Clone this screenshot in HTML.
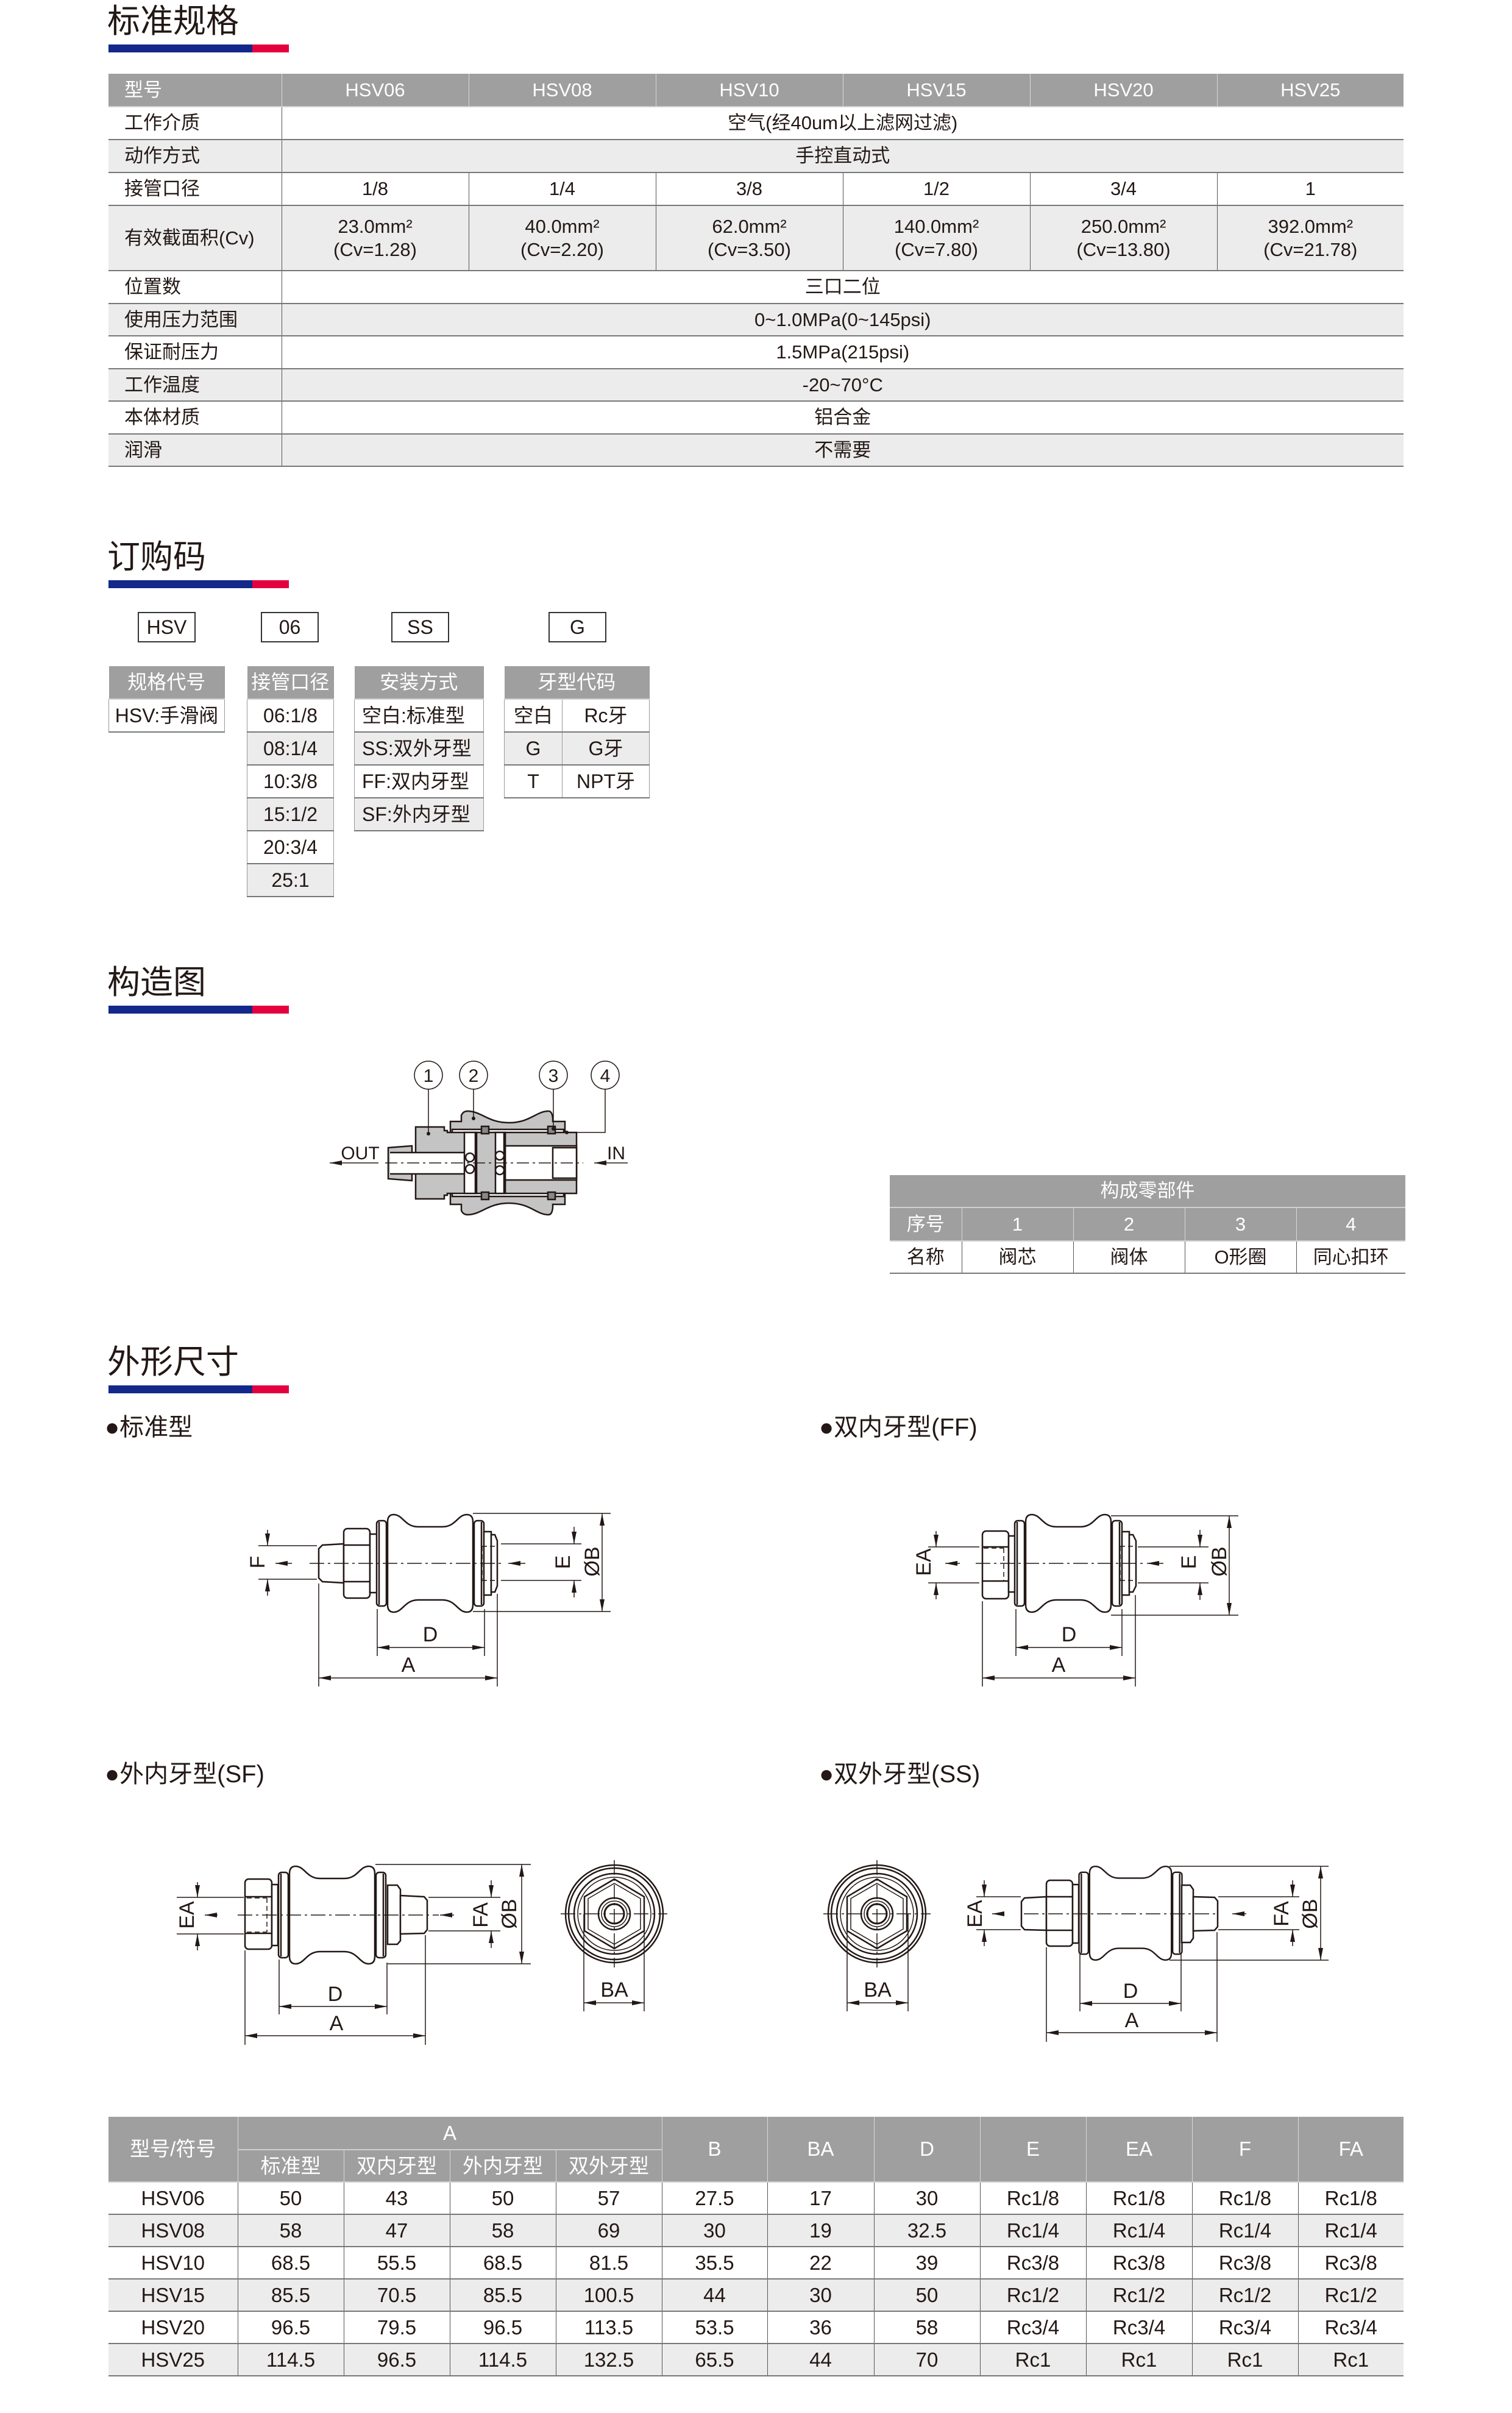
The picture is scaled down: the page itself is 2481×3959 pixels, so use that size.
<!DOCTYPE html>
<html><head><meta charset="utf-8">
<style>
*{margin:0;padding:0;box-sizing:border-box}
body{width:2481px;height:3959px;background:#fff;position:relative;overflow:hidden;font-family:"Liberation Sans","Noto Sans CJK SC",sans-serif;color:#231815}
.t{position:absolute;left:176px;font-size:54px;line-height:54px;font-family:"Liberation Sans","Noto Sans CJK SC",sans-serif;color:#231815}
.bar{position:absolute;left:178px;width:296px;height:13px;background:linear-gradient(90deg,#13288a 0,#13288a 236px,#e4003e 236px)}
table{position:absolute;border-collapse:collapse;table-layout:fixed;font-size:31px}
td{text-align:center;vertical-align:middle;border-bottom:2px solid #777;border-left:1.5px solid #555;padding:0;line-height:1.2}
td:first-child{border-left:none}
tr.h td{background:#9f9f9f;color:#fff;border-left:1.5px solid #d8d8d8;border-bottom:2px solid #d0d0d0}
tr.h td:first-child{border-left:none}
tr.g td{background:#ececec}
.L{text-align:left;padding-left:26px}
.box{position:absolute;top:1004px;width:95px;height:50px;border:2px solid #333;font-size:32px;text-align:center;line-height:46px}
.sub{position:absolute;font-size:40px;line-height:44px}
.oc td{border-left:1.5px solid #999;border-right:1.5px solid #999}
</style></head><body>

<div class="t" style="top:8px">标准规格</div><div class="bar" style="top:73px"></div>
<div class="t" style="top:887px">订购码</div><div class="bar" style="top:952px"></div>
<div class="t" style="top:1585px">构造图</div><div class="bar" style="top:1650px"></div>
<div class="t" style="top:2208px">外形尺寸</div><div class="bar" style="top:2273px"></div>

<table style="left:178px;top:121px;width:2125px">
<colgroup><col style="width:284px"><col style="width:307px"><col style="width:307px"><col style="width:307px"><col style="width:307px"><col style="width:307px"><col style="width:306px"></colgroup>
<tr class="h" style="height:54px"><td class="L">型号</td><td>HSV06</td><td>HSV08</td><td>HSV10</td><td>HSV15</td><td>HSV20</td><td>HSV25</td></tr>
<tr style="height:54px"><td class="L">工作介质</td><td colspan="6">空气(经40um以上滤网过滤)</td></tr>
<tr class="g" style="height:54px"><td class="L">动作方式</td><td colspan="6">手控直动式</td></tr>
<tr style="height:54px"><td class="L">接管口径</td><td>1/8</td><td>1/4</td><td>3/8</td><td>1/2</td><td>3/4</td><td>1</td></tr>
<tr class="g" style="height:107px"><td class="L">有效截面积(Cv)</td><td>23.0mm²<br>(Cv=1.28)</td><td>40.0mm²<br>(Cv=2.20)</td><td>62.0mm²<br>(Cv=3.50)</td><td>140.0mm²<br>(Cv=7.80)</td><td>250.0mm²<br>(Cv=13.80)</td><td>392.0mm²<br>(Cv=21.78)</td></tr>
<tr style="height:54px"><td class="L">位置数</td><td colspan="6">三口二位</td></tr>
<tr class="g" style="height:53px"><td class="L">使用压力范围</td><td colspan="6">0~1.0MPa(0~145psi)</td></tr>
<tr style="height:54px"><td class="L">保证耐压力</td><td colspan="6">1.5MPa(215psi)</td></tr>
<tr class="g" style="height:53px"><td class="L">工作温度</td><td colspan="6">-20~70°C</td></tr>
<tr style="height:54px"><td class="L">本体材质</td><td colspan="6">铝合金</td></tr>
<tr class="g" style="height:53px"><td class="L">润滑</td><td colspan="6">不需要</td></tr>
</table>

<div class="box" style="left:226px">HSV</div>
<div class="box" style="left:428px">06</div>
<div class="box" style="left:642px">SS</div>
<div class="box" style="left:900px">G</div>

<table class="oc" style="left:178px;top:1093px;width:191px;font-size:32px">
<tr class="h" style="height:54px"><td>规格代号</td></tr>
<tr style="height:54px"><td>HSV:手滑阀</td></tr>
</table>
<table class="oc" style="left:405px;top:1093px;width:143px;font-size:32px">
<tr class="h" style="height:54px"><td>接管口径</td></tr>
<tr style="height:54px"><td>06:1/8</td></tr>
<tr class="g" style="height:54px"><td>08:1/4</td></tr>
<tr style="height:54px"><td>10:3/8</td></tr>
<tr class="g" style="height:54px"><td>15:1/2</td></tr>
<tr style="height:54px"><td>20:3/4</td></tr>
<tr class="g" style="height:54px"><td>25:1</td></tr>
</table>
<table class="oc" style="left:581px;top:1093px;width:213px;font-size:32px">
<tr class="h" style="height:54px"><td>安装方式</td></tr>
<tr style="height:54px"><td class="L" style="padding-left:12px">空白:标准型</td></tr>
<tr class="g" style="height:54px"><td class="L" style="padding-left:12px">SS:双外牙型</td></tr>
<tr style="height:54px"><td class="L" style="padding-left:12px">FF:双内牙型</td></tr>
<tr class="g" style="height:54px"><td class="L" style="padding-left:12px">SF:外内牙型</td></tr>
</table>
<table class="oc" style="left:827px;top:1093px;width:238px;font-size:32px">
<colgroup><col style="width:95px"><col style="width:143px"></colgroup>
<tr class="h" style="height:54px"><td colspan="2">牙型代码</td></tr>
<tr style="height:54px"><td>空白</td><td>Rc牙</td></tr>
<tr class="g" style="height:54px"><td>G</td><td>G牙</td></tr>
<tr style="height:54px"><td>T</td><td>NPT牙</td></tr>
</table>

<table style="left:1460px;top:1928px;width:846px;font-size:31px">
<colgroup><col style="width:118px"><col style="width:183px"><col style="width:183px"><col style="width:183px"><col style="width:179px"></colgroup>
<tr class="h" style="height:53px"><td colspan="5">构成零部件</td></tr>
<tr class="h" style="height:55px"><td>序号</td><td>1</td><td>2</td><td>3</td><td>4</td></tr>
<tr style="height:53px"><td>名称</td><td>阀芯</td><td>阀体</td><td>O形圈</td><td>同心扣环</td></tr>
</table>

<div class="sub" style="left:172px;top:2320px">●标准型</div>
<div class="sub" style="left:1344px;top:2320px">●双内牙型(FF)</div>
<div class="sub" style="left:172px;top:2889px">●外内牙型(SF)</div>
<div class="sub" style="left:1344px;top:2889px">●双外牙型(SS)</div>

<table style="left:178px;top:3473px;width:2125px;font-size:33px">
<colgroup><col style="width:212px"><col style="width:174px"><col style="width:174px"><col style="width:174px"><col style="width:174px"><col style="width:173px"><col style="width:175px"><col style="width:174px"><col style="width:174px"><col style="width:174px"><col style="width:174px"><col style="width:173px"></colgroup>
<tr class="h" style="height:54px"><td rowspan="2">型号/符号</td><td colspan="4">A</td><td rowspan="2">B</td><td rowspan="2">BA</td><td rowspan="2">D</td><td rowspan="2">E</td><td rowspan="2">EA</td><td rowspan="2">F</td><td rowspan="2">FA</td></tr>
<tr class="h" style="height:53px"><td style="border-left:1.5px solid #d8d8d8">标准型</td><td>双内牙型</td><td>外内牙型</td><td>双外牙型</td></tr>
<tr style="height:53px"><td>HSV06</td><td>50</td><td>43</td><td>50</td><td>57</td><td>27.5</td><td>17</td><td>30</td><td>Rc1/8</td><td>Rc1/8</td><td>Rc1/8</td><td>Rc1/8</td></tr>
<tr class="g" style="height:53px"><td>HSV08</td><td>58</td><td>47</td><td>58</td><td>69</td><td>30</td><td>19</td><td>32.5</td><td>Rc1/4</td><td>Rc1/4</td><td>Rc1/4</td><td>Rc1/4</td></tr>
<tr style="height:53px"><td>HSV10</td><td>68.5</td><td>55.5</td><td>68.5</td><td>81.5</td><td>35.5</td><td>22</td><td>39</td><td>Rc3/8</td><td>Rc3/8</td><td>Rc3/8</td><td>Rc3/8</td></tr>
<tr class="g" style="height:53px"><td>HSV15</td><td>85.5</td><td>70.5</td><td>85.5</td><td>100.5</td><td>44</td><td>30</td><td>50</td><td>Rc1/2</td><td>Rc1/2</td><td>Rc1/2</td><td>Rc1/2</td></tr>
<tr style="height:53px"><td>HSV20</td><td>96.5</td><td>79.5</td><td>96.5</td><td>113.5</td><td>53.5</td><td>36</td><td>58</td><td>Rc3/4</td><td>Rc3/4</td><td>Rc3/4</td><td>Rc3/4</td></tr>
<tr class="g" style="height:53px"><td>HSV25</td><td>114.5</td><td>96.5</td><td>114.5</td><td>132.5</td><td>65.5</td><td>44</td><td>70</td><td>Rc1</td><td>Rc1</td><td>Rc1</td><td>Rc1</td></tr>
</table>

<svg style="position:absolute;left:0;top:0" width="2481" height="3959" viewBox="0 0 2481 3959" font-family="Liberation Sans, sans-serif">
<defs>
<marker id="ar" viewBox="0 0 20 10" refX="20" refY="5" markerWidth="20" markerHeight="10" markerUnits="userSpaceOnUse" orient="auto-start-reverse"><path d="M0,1 L20,5 L0,9 Z" fill="#231815"/></marker>
<g id="spool" fill="#fff" stroke="#231815" stroke-width="2.5">
<path d="M-70,-68 Q-70,-80 -60,-80 C-45,-80 -42,-60 -20,-60 L20,-60 C42,-60 45,-80 60,-80 Q70,-80 70,-68 L70,68 Q70,80 60,80 C45,80 42,60 20,60 L-20,60 C-42,60 -45,80 -60,80 Q-70,80 -70,68 Z"/>
<rect x="-88" y="-70" width="16" height="140" rx="5"/>
<rect x="72" y="-70" width="16" height="140" rx="5"/>
<line x1="-84" y1="-68" x2="-84" y2="68"/><line x1="84" y1="-68" x2="84" y2="68"/>
</g>
<g id="endv" fill="none" stroke="#231815" stroke-width="2.5">
<circle r="80"/><circle r="75"/><circle r="66"/><circle r="60" stroke-width="1.5"/>
<polygon points="0,-57 49,-28 49,28 0,57 -49,28 -49,-28"/>
<polygon points="0,-50 43,-25 43,25 0,50 -43,25 -43,-25" stroke-width="1.5"/>
<circle r="26"/><circle r="21" stroke-width="1.5"/><circle r="16" stroke-width="3"/>
</g>
</defs>

<g stroke="#231815" stroke-width="2.5">
<path d="M739,1840 L757,1840 L757,1830 Q760,1823 767,1823 C790,1823 800,1842 835,1842 C870,1842 880,1823 900,1823 Q906,1823 907,1835 L907,1840 L927,1840 L927,1976 L907,1976 L907,1981 Q906,1993 900,1993 C880,1993 870,1974 835,1974 C800,1974 790,1993 767,1993 Q760,1993 757,1986 L757,1976 L739,1976 Z" fill="#c4c4c4"/>
<rect x="742" y="1853" width="183" height="110" fill="#fff"/>
<rect x="829" y="1858" width="117" height="100" fill="#c4c4c4"/>
<rect x="829" y="1880" width="117" height="56" fill="#fff"/>
<rect x="907" y="1883" width="39" height="50" fill="#fff"/>
<path d="M682,1849 L729,1849 L729,1855 L734,1855 L734,1858 L782,1858 L782,1958 L734,1958 L734,1961 L729,1961 L729,1967 L682,1967 Z" fill="#c4c4c4"/>
<path d="M637,1883 L676,1880 L676,1937 L637,1934 Z" fill="#c4c4c4"/>
<rect x="640" y="1891" width="142" height="35" fill="#fff" stroke="none"/>
<line x1="640" y1="1891" x2="782" y2="1891"/><line x1="640" y1="1926" x2="782" y2="1926"/>
<rect x="782" y="1858" width="47" height="100" fill="#c4c4c4"/>
<rect x="762" y="1858" width="18" height="100" fill="#fff"/>
<rect x="813" y="1858" width="14" height="100" fill="#fff"/>
<rect x="790" y="1848" width="12" height="12" fill="#888"/><rect x="899" y="1848" width="12" height="12" fill="#888"/>
<rect x="790" y="1956" width="12" height="12" fill="#888"/><rect x="899" y="1956" width="12" height="12" fill="#888"/>
<circle cx="771" cy="1899" r="7" fill="#fff"/><circle cx="771" cy="1918" r="7" fill="#fff"/>
<circle cx="820" cy="1896" r="7" fill="#fff"/><circle cx="820" cy="1920" r="7" fill="#fff"/>
</g>
<g stroke="#231815" stroke-width="1.5" fill="none">
<line x1="632" y1="1908" x2="957" y2="1908" stroke-dasharray="20,6,4,6"/>
<line x1="621" y1="1908" x2="541" y2="1908" marker-end="url(#ar)"/>
<line x1="1030" y1="1908" x2="975" y2="1908" marker-end="url(#ar)"/>
<circle cx="703" cy="1764" r="23"/><circle cx="777" cy="1764" r="23"/><circle cx="908" cy="1764" r="23"/><circle cx="993" cy="1764" r="23"/>
<line x1="703" y1="1787" x2="703" y2="1860"/><line x1="777" y1="1787" x2="777" y2="1835"/>
<line x1="908" y1="1787" x2="908" y2="1852"/><polyline points="993,1787 993,1858 930,1858"/>
</g>
<g fill="#231815"><circle cx="703" cy="1860" r="3"/><circle cx="777" cy="1835" r="3"/><circle cx="908" cy="1852" r="3"/><circle cx="930" cy="1858" r="3"/></g>
<g font-size="30" fill="#231815" text-anchor="middle">
<text x="703" y="1775">1</text><text x="777" y="1775">2</text><text x="908" y="1775">3</text><text x="993" y="1775">4</text>
<text x="591" y="1902">OUT</text><text x="1011" y="1902">IN</text>
</g>

<g fill="#fff" stroke="#231815" stroke-width="2.5">
<path d="M523,2541 L529,2535 L564,2533 L564,2597 L529,2595 L523,2589 Z"/>
<rect x="564" y="2508" width="43" height="114" rx="6"/>
<line x1="564" y1="2535" x2="607" y2="2535"/><line x1="564" y1="2595" x2="607" y2="2595"/>
<rect x="607" y="2517" width="12" height="96"/>
<use href="#spool" x="706" y="2565"/>
<rect x="794" y="2513" width="12" height="104"/>
<path d="M806,2518 L812,2518 L816,2528 L816,2602 L812,2612 L806,2612 Z"/>
<rect x="1612" y="2512" width="43" height="111" rx="6"/>
<line x1="1612" y1="2538" x2="1655" y2="2538"/><line x1="1612" y1="2594" x2="1655" y2="2594"/>
<rect x="1655" y="2520" width="11" height="92"/>
<use href="#spool" x="1753" y="2565"/>
<rect x="1841" y="2513" width="12" height="104"/>
<path d="M1853,2518 L1859,2518 L1864,2528 L1864,2602 L1859,2612 L1853,2612 Z"/>
<rect x="402" y="3083" width="44" height="115" rx="6"/>
<line x1="402" y1="3112" x2="446" y2="3112"/><line x1="402" y1="3172" x2="446" y2="3172"/>
<rect x="446" y="3092" width="10" height="100"/>
<use href="#spool" x="545" y="3142"/>
<path d="M636,3093 L652,3093 L657,3100 L657,3184 L652,3190 L636,3190 Z"/>
<path d="M657,3110 L696,3112 L701,3118 L701,3166 L696,3172 L657,3173 Z"/>
<use href="#endv" x="1008" y="3140"/>
<path d="M1717,3112 L1681,3114 L1676,3120 L1676,3160 L1681,3166 L1717,3167 Z"/>
<rect x="1717" y="3085" width="43" height="108" rx="6"/>
<line x1="1717" y1="3112" x2="1760" y2="3112"/><line x1="1717" y1="3167" x2="1760" y2="3167"/>
<rect x="1760" y="3092" width="10" height="96"/>
<use href="#spool" transform="translate(1855,3139) scale(0.96,0.96)"/>
<path d="M1939,3093 L1953,3093 L1958,3100 L1958,3180 L1953,3187 L1939,3187 Z"/>
<path d="M1958,3112 L1993,3113 L1998,3119 L1998,3161 L1993,3167 L1958,3168 Z"/>
<use href="#endv" x="1439" y="3140"/>
</g>
<g stroke="#231815" stroke-width="1.5" fill="none" stroke-dasharray="8,5">
<line x1="791" y1="2537" x2="814" y2="2537"/><line x1="791" y1="2593" x2="814" y2="2593"/><line x1="791" y1="2537" x2="791" y2="2593"/>
<line x1="1838" y1="2537" x2="1862" y2="2537"/><line x1="1838" y1="2593" x2="1862" y2="2593"/><line x1="1838" y1="2537" x2="1838" y2="2593"/>
<line x1="1614" y1="2540" x2="1647" y2="2540"/><line x1="1614" y1="2594" x2="1647" y2="2594"/><line x1="1647" y1="2540" x2="1647" y2="2594"/>
<line x1="405" y1="3114" x2="438" y2="3114"/><line x1="405" y1="3170" x2="438" y2="3170"/><line x1="438" y1="3114" x2="438" y2="3170"/>
</g>
<g stroke="#231815" stroke-width="1.5" fill="none">
<line x1="508" y1="2565" x2="822" y2="2565" stroke-dasharray="24,6,4,6"/>
<line x1="479" y1="2565" x2="452" y2="2565" marker-end="url(#ar)"/>
<line x1="862" y1="2565" x2="834" y2="2565" marker-end="url(#ar)"/>
<line x1="1601" y1="2565" x2="1880" y2="2565" stroke-dasharray="24,6,4,6"/>
<line x1="1575" y1="2565" x2="1551" y2="2565" marker-end="url(#ar)"/>
<line x1="1909" y1="2565" x2="1882" y2="2565" marker-end="url(#ar)"/>
<line x1="390" y1="3142" x2="720" y2="3142" stroke-dasharray="24,6,4,6"/>
<line x1="357" y1="3142" x2="336" y2="3142" marker-end="url(#ar)"/>
<line x1="745" y1="3142" x2="722" y2="3142" marker-end="url(#ar)"/>
<line x1="1680" y1="3140" x2="2000" y2="3140" stroke-dasharray="24,6,4,6"/>
<line x1="1648" y1="3140" x2="1628" y2="3140" marker-end="url(#ar)"/>
<line x1="2045" y1="3140" x2="2022" y2="3140" marker-end="url(#ar)"/>
<line x1="920" y1="3140" x2="1095" y2="3140" stroke-dasharray="24,6,4,6"/><line x1="1008" y1="3052" x2="1008" y2="3228" stroke-dasharray="24,6,4,6"/>
<line x1="1351" y1="3140" x2="1527" y2="3140" stroke-dasharray="24,6,4,6"/><line x1="1439" y1="3052" x2="1439" y2="3228" stroke-dasharray="24,6,4,6"/>

<line x1="424" y1="2536" x2="520" y2="2536"/><line x1="424" y1="2591" x2="520" y2="2591"/>
<line x1="439" y1="2510" x2="439" y2="2536" marker-end="url(#ar)"/><line x1="439" y1="2618" x2="439" y2="2591" marker-end="url(#ar)"/>
<line x1="822" y1="2533" x2="954" y2="2533"/><line x1="822" y1="2593" x2="954" y2="2593"/>
<line x1="942" y1="2505" x2="942" y2="2533" marker-end="url(#ar)"/><line x1="942" y1="2621" x2="942" y2="2593" marker-end="url(#ar)"/>
<line x1="776" y1="2483" x2="1002" y2="2483"/><line x1="776" y1="2644" x2="1002" y2="2644"/>
<line x1="988" y1="2483" x2="988" y2="2644" marker-start="url(#ar)" marker-end="url(#ar)"/>
<line x1="619" y1="2640" x2="619" y2="2717"/><line x1="795" y1="2640" x2="795" y2="2717"/>
<line x1="619" y1="2703" x2="795" y2="2703" marker-start="url(#ar)" marker-end="url(#ar)"/>
<line x1="523" y1="2598" x2="523" y2="2767"/><line x1="816" y1="2615" x2="816" y2="2767"/>
<line x1="523" y1="2753" x2="816" y2="2753" marker-start="url(#ar)" marker-end="url(#ar)"/>
<line x1="1523" y1="2538" x2="1607" y2="2538"/><line x1="1523" y1="2597" x2="1607" y2="2597"/>
<line x1="1536" y1="2512" x2="1536" y2="2538" marker-end="url(#ar)"/><line x1="1536" y1="2624" x2="1536" y2="2597" marker-end="url(#ar)"/>
<line x1="1867" y1="2538" x2="1983" y2="2538"/><line x1="1867" y1="2597" x2="1983" y2="2597"/>
<line x1="1969" y1="2510" x2="1969" y2="2538" marker-end="url(#ar)"/><line x1="1969" y1="2625" x2="1969" y2="2597" marker-end="url(#ar)"/>
<line x1="1823" y1="2487" x2="2032" y2="2487"/><line x1="1823" y1="2650" x2="2032" y2="2650"/>
<line x1="2017" y1="2487" x2="2017" y2="2650" marker-start="url(#ar)" marker-end="url(#ar)"/>
<line x1="1667" y1="2640" x2="1667" y2="2717"/><line x1="1841" y1="2640" x2="1841" y2="2717"/>
<line x1="1667" y1="2703" x2="1841" y2="2703" marker-start="url(#ar)" marker-end="url(#ar)"/>
<line x1="1612" y1="2627" x2="1612" y2="2767"/><line x1="1863" y1="2617" x2="1863" y2="2767"/>
<line x1="1612" y1="2753" x2="1863" y2="2753" marker-start="url(#ar)" marker-end="url(#ar)"/>
<line x1="290" y1="3113" x2="400" y2="3113"/><line x1="290" y1="3173" x2="400" y2="3173"/>
<line x1="324" y1="3088" x2="324" y2="3113" marker-end="url(#ar)"/><line x1="324" y1="3200" x2="324" y2="3173" marker-end="url(#ar)"/>
<line x1="703" y1="3113" x2="821" y2="3113"/><line x1="703" y1="3168" x2="821" y2="3168"/>
<line x1="806" y1="3085" x2="806" y2="3113" marker-end="url(#ar)"/><line x1="806" y1="3196" x2="806" y2="3168" marker-end="url(#ar)"/>
<line x1="616" y1="3059" x2="871" y2="3059"/><line x1="636" y1="3222" x2="871" y2="3222"/>
<line x1="856" y1="3059" x2="856" y2="3222" marker-start="url(#ar)" marker-end="url(#ar)"/>
<line x1="458" y1="3215" x2="458" y2="3305"/><line x1="635" y1="3220" x2="635" y2="3305"/>
<line x1="458" y1="3292" x2="635" y2="3292" marker-start="url(#ar)" marker-end="url(#ar)"/>
<line x1="402" y1="3200" x2="402" y2="3355"/><line x1="698" y1="3175" x2="698" y2="3355"/>
<line x1="402" y1="3340" x2="698" y2="3340" marker-start="url(#ar)" marker-end="url(#ar)"/>
<line x1="958" y1="3140" x2="958" y2="3300"/><line x1="1057" y1="3140" x2="1057" y2="3300"/>
<line x1="958" y1="3286" x2="1057" y2="3286" marker-start="url(#ar)" marker-end="url(#ar)"/>
<line x1="1602" y1="3112" x2="1675" y2="3112"/><line x1="1602" y1="3166" x2="1675" y2="3166"/>
<line x1="1615" y1="3085" x2="1615" y2="3112" marker-end="url(#ar)"/><line x1="1615" y1="3193" x2="1615" y2="3166" marker-end="url(#ar)"/>
<line x1="1999" y1="3112" x2="2132" y2="3112"/><line x1="1999" y1="3166" x2="2132" y2="3166"/>
<line x1="2121" y1="3085" x2="2121" y2="3112" marker-end="url(#ar)"/><line x1="2121" y1="3193" x2="2121" y2="3166" marker-end="url(#ar)"/>
<line x1="1919" y1="3062" x2="2180" y2="3062"/><line x1="1919" y1="3216" x2="2180" y2="3216"/>
<line x1="2167" y1="3062" x2="2167" y2="3216" marker-start="url(#ar)" marker-end="url(#ar)"/>
<line x1="1772" y1="3205" x2="1772" y2="3300"/><line x1="1938" y1="3205" x2="1938" y2="3300"/>
<line x1="1772" y1="3287" x2="1938" y2="3287" marker-start="url(#ar)" marker-end="url(#ar)"/>
<line x1="1717" y1="3195" x2="1717" y2="3350"/><line x1="1997" y1="3170" x2="1997" y2="3350"/>
<line x1="1717" y1="3335" x2="1997" y2="3335" marker-start="url(#ar)" marker-end="url(#ar)"/>
<line x1="1390" y1="3140" x2="1390" y2="3300"/><line x1="1490" y1="3140" x2="1490" y2="3300"/>
<line x1="1390" y1="3286" x2="1490" y2="3286" marker-start="url(#ar)" marker-end="url(#ar)"/>
</g>
<g font-size="34" fill="#231815" text-anchor="middle">
<text x="706" y="2693">D</text><text x="670" y="2743">A</text>
<text transform="translate(434,2563) rotate(-90)">F</text>
<text transform="translate(935,2563) rotate(-90)">E</text>
<text transform="translate(983,2562) rotate(-90)">ØB</text>
<text x="1754" y="2693">D</text><text x="1737" y="2743">A</text>
<text transform="translate(1527,2563) rotate(-90)">EA</text>
<text transform="translate(1962,2563) rotate(-90)">E</text>
<text transform="translate(2012,2562) rotate(-90)">ØB</text>
<text x="550" y="3283">D</text><text x="552" y="3331">A</text>
<text transform="translate(318,3142) rotate(-90)">EA</text>
<text transform="translate(800,3142) rotate(-90)">FA</text>
<text transform="translate(847,3140) rotate(-90)">ØB</text>
<text x="1008" y="3276">BA</text>
<text x="1855" y="3278">D</text><text x="1857" y="3326">A</text>
<text transform="translate(1611,3140) rotate(-90)">EA</text>
<text transform="translate(2114,3140) rotate(-90)">FA</text>
<text transform="translate(2161,3140) rotate(-90)">ØB</text>
<text x="1440" y="3276">BA</text>
</g>
</svg>
</body></html>
